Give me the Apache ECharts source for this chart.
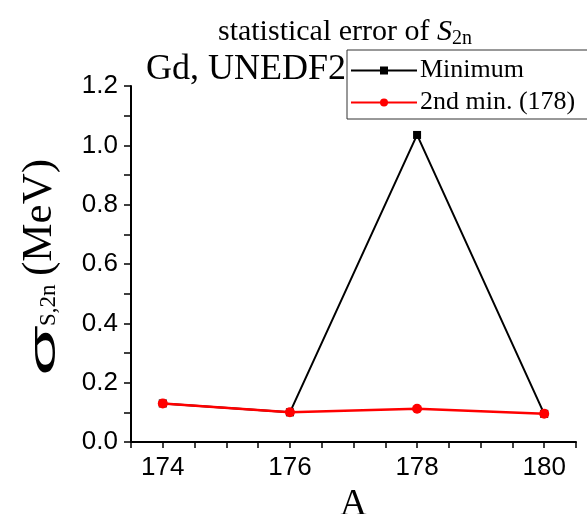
<!DOCTYPE html>
<html>
<head>
<meta charset="utf-8">
<script src="https://cdn.jsdelivr.net/npm/echarts@6/dist/echarts.min.js"></script>
<style>
html,body{margin:0;padding:0;background:#fff;}
#chart{width:587px;height:514px;}
</style>
</head>
<body>
<div id="chart"></div>
<script>
// Mass numbers of the Gd isotopes
const massNumbers = [174, 176, 178, 180];
// Statistical error of S2n (MeV), global minimum
const minimumErr = [0.13, 0.10, 1.035, 0.095];
// Statistical error of S2n (MeV), second minimum for A = 178
const secondMinErr = [0.13, 0.10, 0.112, 0.095];

const serif = 'Liberation Serif';
const sans = 'Liberation Sans';

const chart = echarts.init(document.getElementById('chart'));
chart.setOption({
  animation: false,
  backgroundColor: '#fff',
  title: {
    text: 'statistical error of {i|S}{sub|2n}',
    left: 340, top: 10, textAlign: 'center',
    textStyle: {
      fontFamily: serif, fontSize: 30, fontWeight: 'normal', color: '#000',
      rich: {
        i: { fontFamily: serif, fontSize: 30, fontStyle: 'italic', color: '#000' },
        sub: { fontFamily: serif, fontSize: 20, color: '#000', padding: [14, 0, 0, 0] }
      }
    }
  },
  graphic: [
    {
      type: 'text', left: 146, top: 52,
      style: { text: 'Gd, UNEDF2', font: '36px "Liberation Serif"', fill: '#000' }
    },
    {
      // vertical axis title σ_{S,2n} (MeV), reading bottom to top; baseline at the group origin
      type: 'group', x: 57, y: 376, rotation: Math.PI / 2,
      children: [
        {
          type: 'text', x: 0, y: -12, scaleX: 2.3,
          style: { text: 'σ', font: '36px "Liberation Sans"', fill: '#000', verticalAlign: 'middle', align: 'left' }
        },
        {
          type: 'text', x: 50, y: -8,
          style: { text: 'S,2n', font: '23px "Liberation Serif"', fill: '#000', verticalAlign: 'middle', align: 'left' }
        },
        {
          type: 'text', x: 100, y: -17,
          style: { text: '(MeV)', font: '43px "Liberation Serif"', fill: '#000', verticalAlign: 'middle', align: 'left' }
        }
      ]
    }
  ],
  legend: {
    left: 347, top: 50,
    orient: 'vertical',
    itemWidth: 66, itemHeight: 10, itemGap: 5,
    padding: [7, 14, 3, 3],
    borderColor: '#333', borderWidth: 1, backgroundColor: '#fff',
    textStyle: { fontFamily: serif, fontSize: 26, lineHeight: 27, color: '#000', padding: [0, 0, 0, -2] },
    data: ['Minimum', '2nd min. (178)']
  },
  grid: { left: 131, right: 11, top: 86, bottom: 72, containLabel: false, outerBoundsMode: 'none' },
  xAxis: {
    type: 'value', min: 173.5, max: 180.5, interval: 0.5,
    name: 'A', nameLocation: 'middle', nameGap: 36,
    nameTextStyle: { fontFamily: serif, fontSize: 38, color: '#000', verticalAlign: 'top' },
    axisLine: { lineStyle: { color: '#000', width: 2 } },
    axisTick: { show: true, length: 6, lineStyle: { color: '#000', width: 1.5 } },
    splitLine: { show: false },
    axisLabel: {
      fontFamily: sans, fontSize: 26, color: '#000', margin: 13,
      showMinLabel: true, showMaxLabel: true,
      formatter: v => (Math.abs(v % 2) < 1e-6 ? String(Math.round(v)) : '')
    }
  },
  yAxis: {
    type: 'value', min: 0, max: 1.2, interval: 0.1,
    axisLine: { show: true, lineStyle: { color: '#000', width: 2 } },
    axisTick: { show: true, length: 7, lineStyle: { color: '#000', width: 1.5 } },
    splitLine: { show: false },
    axisLabel: {
      fontFamily: sans, fontSize: 26, color: '#000', margin: 13,
      formatter: v => (Math.round(v * 10) % 2 === 0 ? v.toFixed(1) : '')
    }
  },
  series: [
    {
      name: 'Minimum', type: 'line',
      data: massNumbers.map((a, i) => [a, minimumErr[i]]),
      symbol: 'rect', symbolSize: 8,
      lineStyle: { color: '#000', width: 2 },
      itemStyle: { color: '#000' }
    },
    {
      name: '2nd min. (178)', type: 'line',
      data: massNumbers.map((a, i) => [a, secondMinErr[i]]),
      symbol: 'circle', symbolSize: 10,
      lineStyle: { color: '#ff0000', width: 2.5 },
      itemStyle: { color: '#ff0000' }
    }
  ]
});
</script>
</body>
</html>
